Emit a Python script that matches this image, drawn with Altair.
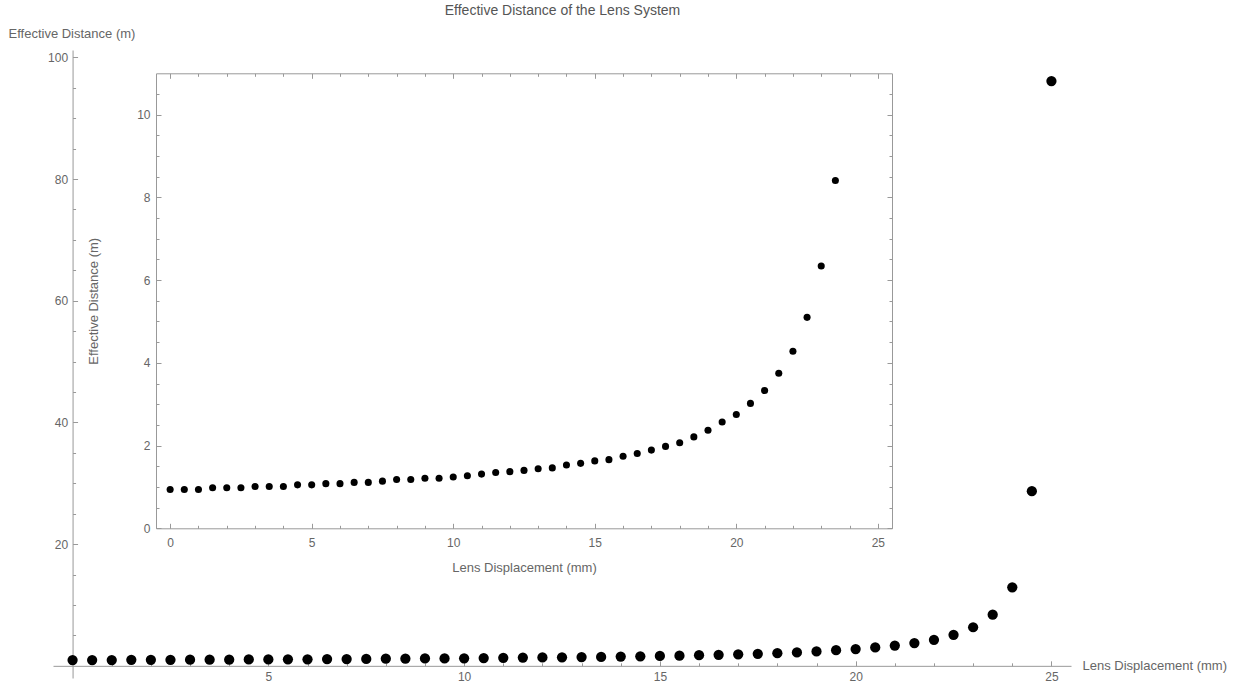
import altair as alt
import pandas as pd

# ---------------- data ----------------
displacement_mm = [0, 0.5, 1, 1.5, 2, 2.5, 3, 3.5, 4, 4.5, 5, 5.5, 6, 6.5, 7, 7.5, 8, 8.5,
                   9, 9.5, 10, 10.5, 11, 11.5, 12, 12.5, 13, 13.5, 14, 14.5, 15, 15.5, 16,
                   16.5, 17, 17.5, 18, 18.5, 19, 19.5, 20, 20.5, 21, 21.5, 22, 22.5, 23,
                   23.5, 24, 24.5, 25]
effective_distance_m = [0.94, 0.94, 0.94, 0.98, 0.98, 0.98, 1.01, 1.01, 1.01, 1.05, 1.05,
                        1.08, 1.08, 1.11, 1.11, 1.14, 1.18, 1.18, 1.21, 1.21, 1.24, 1.27,
                        1.31, 1.35, 1.37, 1.40, 1.44, 1.46, 1.53, 1.57, 1.63, 1.66, 1.74,
                        1.81, 1.89, 1.98, 2.07, 2.21, 2.37, 2.57, 2.75, 3.02, 3.33, 3.75,
                        4.28, 5.10, 6.34, 8.41, 12.9, 28.7, 96.1]

main_x_major = [5, 10, 15, 20, 25]
main_x_minor = [1, 2, 3, 4, 6, 7, 8, 9, 11, 12, 13, 14, 16, 17, 18, 19, 21, 22, 23, 24]
main_y_major = [20, 40, 60, 80, 100]
main_y_minor = [5, 10, 15, 25, 30, 35, 45, 50, 55, 65, 70, 75, 85, 90, 95]
inset_x_major = [0, 5, 10, 15, 20, 25]
inset_x_minor = [1, 2, 3, 4, 6, 7, 8, 9, 11, 12, 13, 14, 16, 17, 18, 19, 21, 22, 23, 24]
inset_y_major = [0, 2, 4, 6, 8, 10]
inset_y_minor = [0.5, 1, 1.5, 2.5, 3, 3.5, 4.5, 5, 5.5, 6.5, 7, 7.5, 8.5, 9, 9.5, 10.5]

chart_title = "Effective Distance of the Lens System"
x_title = "Lens Displacement (mm)"
y_title = "Effective Distance (m)"

df = pd.DataFrame({"x": displacement_mm, "y": effective_distance_m})

# ---------------- layout ----------------
W, H = 1018, 628
PL, PT = 53, 50
MX = [-0.5, 25.5]
MY = [-2, 101.2]
IX = [-0.5, 25.5]
IY = [0, 11]
IN_L, IN_R, IN_T, IN_B = 103, 839, 23.3, 478.3  # inset frame in plot coords

x0_px = (0 - MX[0]) / (MX[1] - MX[0]) * W          # main y-axis position
y0_px = (MY[1] - 0) / (MY[1] - MY[0]) * H          # main x-axis position

FONT = "Liberation Sans"
TXT = "#666666"
LINE = "#999999"


def ax(**kw):
    base = dict(grid=False, labelFont=FONT, labelFontSize=12, labelColor=TXT,
                titleFont=FONT, titleFontSize=13, titleColor=TXT, titleFontWeight="normal",
                domainColor=LINE, tickColor=LINE, domainWidth=1, tickWidth=1,
                labelOverlap=False, labelFlush=False, title="")
    base.update(kw)
    return alt.Axis(**base)


def tick_axis(orient, offset, values, size, domain=False, **kw):
    return ax(orient=orient, offset=offset, values=values, tickSize=size,
              labels=False, domain=domain, **kw)


def sx(domain, rng):
    return alt.Scale(domain=domain, range=rng, nice=False, zero=False)


main_xs = lambda: sx(MX, [0, W])
main_ys = lambda: sx(MY, [H, 0])
in_xs = lambda: sx(IX, [IN_L, IN_R])
in_ys = lambda: sx(IY, [IN_B, IN_T])

base = alt.Chart(df)

# main points with label axes
main_pts = base.mark_circle(size=105, color="black", opacity=1).encode(
    x=alt.X("x:Q", scale=main_xs(),
            axis=ax(orient="bottom", offset=y0_px - H, values=main_x_major,
                    ticks=False, tickSize=0, labelPadding=6,
                    title=x_title, titleX=1029, titleY=0,
                    titleAlign="left", titleBaseline="middle", titleAngle=0)),
    y=alt.Y("y:Q", scale=main_ys(),
            axis=ax(orient="left", offset=-x0_px, values=main_y_major,
                    ticks=False, tickSize=0, labelPadding=5,
                    title=y_title, titleX=8 - (PL + x0_px), titleY=-17,
                    titleAlign="left", titleBaseline="middle", titleAngle=0)),
)

# major ticks of the main axes (pointing inward); the x one also carries the plot title
main_major = base.mark_point(opacity=0).encode(
    x=alt.X("x:Q", scale=main_xs(),
            axis=tick_axis("top", -y0_px, main_x_major, 5,
                           title=chart_title, titleX=W / 2, titleY=(10 - PT) - y0_px,
                           titleAlign="center", titleBaseline="middle", titleAngle=0,
                           titleColor="#555555", titleFontSize=14)),
    y=alt.Y("y:Q", scale=main_ys(), axis=tick_axis("right", x0_px - W, main_y_major, 5)),
)
main_minor = base.mark_point(opacity=0).encode(
    x=alt.X("x:Q", scale=main_xs(), axis=tick_axis("top", -y0_px, main_x_minor, 3)),
    y=alt.Y("y:Q", scale=main_ys(), axis=tick_axis("right", x0_px - W, main_y_minor, 3)),
)

# inset points (plot range clipped at 11) with label axes
inset_pts = base.transform_filter(alt.datum.y <= 11).mark_circle(
    size=50, color="black", opacity=1).encode(
    x=alt.X("x:Q", scale=in_xs(),
            axis=ax(orient="bottom", offset=IN_B - H, values=inset_x_major,
                    ticks=False, tickSize=0, labelPadding=9,
                    title=x_title, titleY=39,
                    titleAlign="center", titleBaseline="middle", titleAngle=0)),
    y=alt.Y("y:Q", scale=in_ys(),
            axis=ax(orient="left", offset=-IN_L, values=inset_y_major,
                    ticks=False, tickSize=0, labelPadding=6,
                    title=y_title, titleX=-63, titleY=(IN_T + IN_B) / 2,
                    titleAlign="center", titleBaseline="middle", titleAngle=270)),
)

inset_bl_major = base.mark_point(opacity=0).encode(
    x=alt.X("x:Q", scale=in_xs(), axis=tick_axis("top", -IN_B, inset_x_major, 5)),
    y=alt.Y("y:Q", scale=in_ys(), axis=tick_axis("right", IN_L - W, inset_y_major, 5)),
)
inset_bl_minor = base.mark_point(opacity=0).encode(
    x=alt.X("x:Q", scale=in_xs(), axis=tick_axis("top", -IN_B, inset_x_minor, 3)),
    y=alt.Y("y:Q", scale=in_ys(), axis=tick_axis("right", IN_L - W, inset_y_minor, 3)),
)
inset_tr_major = base.mark_point(opacity=0).encode(
    x=alt.X("x:Q", scale=in_xs(), axis=tick_axis("bottom", IN_T - H, inset_x_major, 5, True)),
    y=alt.Y("y:Q", scale=in_ys(), axis=tick_axis("left", -IN_R, inset_y_major, 5, True)),
)
inset_tr_minor = base.mark_point(opacity=0).encode(
    x=alt.X("x:Q", scale=in_xs(), axis=tick_axis("bottom", IN_T - H, inset_x_minor, 3)),
    y=alt.Y("y:Q", scale=in_ys(), axis=tick_axis("left", -IN_R, inset_y_minor, 3)),
)

chart = alt.layer(
    main_major, main_minor, inset_bl_major, inset_bl_minor, inset_tr_major, inset_tr_minor,
    main_pts, inset_pts,
).resolve_scale(x="independent", y="independent").properties(
    width=W, height=H,
    autosize=alt.AutoSizeParams(type="none"),
    padding={"left": PL, "top": PT, "right": 1242 - PL - W, "bottom": 688 - PT - H},
).configure_view(stroke="transparent")

chart.save("out.html", embed_options={"renderer": "svg", "actions": False})
